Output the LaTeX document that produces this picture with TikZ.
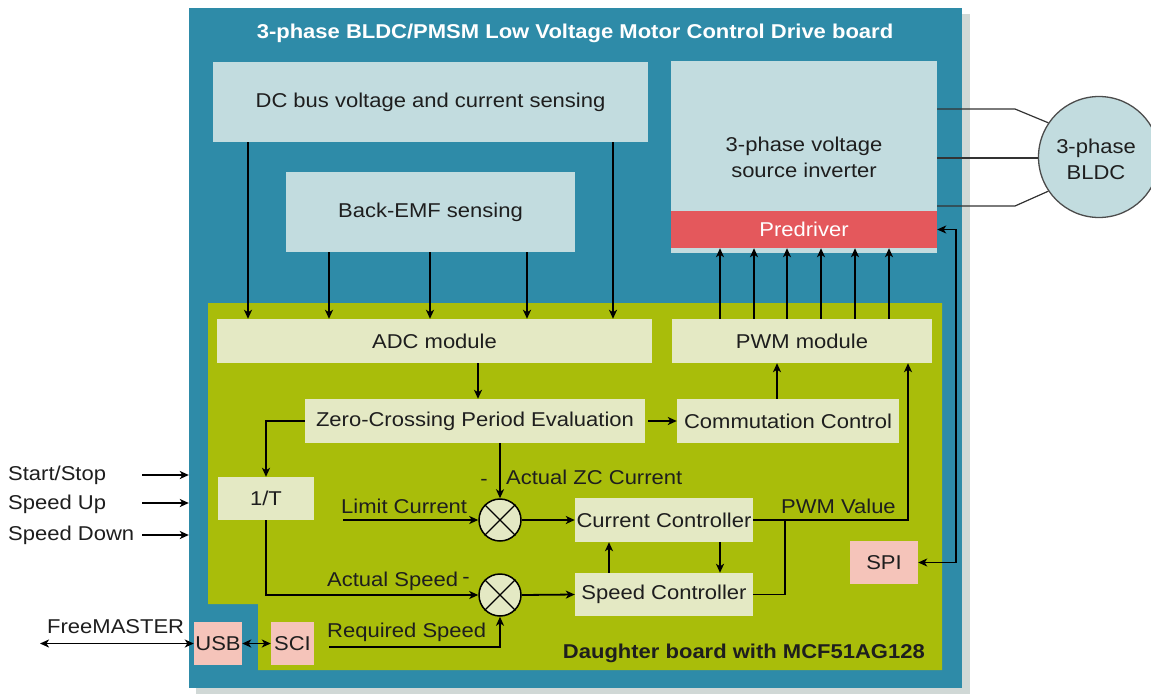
\documentclass[tikz,border=0pt]{standalone}
\usepackage{fontspec}
\setmainfont{Liberation Sans}[FakeStretch=1.1]
\usetikzlibrary{arrows.meta}
\definecolor{boardblue}{RGB}{46,139,168}
\definecolor{shadowgrey}{RGB}{208,216,214}
\definecolor{dgreen}{RGB}{169,189,10}
\definecolor{pale}{RGB}{228,233,196}
\definecolor{lblue}{RGB}{194,220,223}
\definecolor{predred}{RGB}{228,88,92}
\definecolor{pinkbox}{RGB}{245,196,186}
\definecolor{txt}{RGB}{30,30,30}
\begin{document}
\begin{tikzpicture}[x=1pt,y=-1pt,
 every node/.style={font=\fontsize{20}{26}\selectfont, text=txt, inner sep=0pt},
 blk/.style={rectangle, align=center},
 lbbox/.style={blk, fill=lblue},
 pbox/.style={blk, fill=pale},
 kbox/.style={blk, fill=pinkbox},
 tip/.tip={Stealth[length=9pt,width=8pt,inset=2.5pt]},
 arr/.style={-tip, line width=1.8pt},
 arrtwo/.style={tip-tip, line width=1.8pt},
 ln/.style={line width=1.8pt},
 mult/.style={circle, fill=pale, draw=black, line width=1.5pt, minimum size=42pt},
 lbl/.style={anchor=west},
 boldlbl/.style={font=\fontsize{20}{26}\selectfont\bfseries}
]
\useasboundingbox (0,0) rectangle (1151,694);
\fill[white] (0,0) rectangle (1151,694);
% shadow and board
\fill[shadowgrey] (196,14) rectangle (970,694);
\node[rectangle, fill=boardblue, minimum width=773pt, minimum height=680pt] (board) at (575.5,348) {};
\fill[dgreen] (208,303) -- (942,303) -- (942,670) -- (258,670) -- (258,604) -- (208,604) -- cycle;

\node[boldlbl, text=white] (title) at (575,33) {3-phase BLDC/PMSM Low Voltage Motor Control Drive board};

% drive-board blocks
\node[lbbox, minimum width=435pt, minimum height=80pt] (dcbus) at (430.5,102) {DC bus voltage and current sensing};
\node[lbbox, minimum width=289pt, minimum height=80pt] (bemf) at (430.5,212) {Back-EMF sensing};
\node[lbbox, minimum width=266pt, minimum height=192pt] (inv) at (804,157) {};
\node (invtxt) at (804,157.5) [align=center] {3-phase voltage\\source inverter};
\node[blk, fill=predred, minimum width=266pt, minimum height=37pt, text=white] (pred) at (804,229.5) {Predriver};

% daughter board blocks
\node[pbox, minimum width=435pt, minimum height=44pt] (adc) at (434.5,341) {ADC module};
\node[pbox, minimum width=260pt, minimum height=44pt] (pwm) at (802,341) {PWM module};
\node[pbox, minimum width=340pt, minimum height=44pt] (zc) at (475,421) {Zero-Crossing Period Evaluation};
\node[pbox, minimum width=222pt, minimum height=44pt] (comm) at (788,421) {Commutation Control};
\node[pbox, minimum width=96pt, minimum height=43pt] (invT) at (266,498.5) {1/T};
\node[pbox, minimum width=178pt, minimum height=44pt] (curr) at (664,520) {Current Controller};
\node[pbox, minimum width=178pt, minimum height=43pt] (speed) at (664,594.5) {Speed Controller};
\node[kbox, minimum width=68pt, minimum height=43pt] (spi) at (884,562.5) {SPI};
\node[kbox, minimum width=43pt, minimum height=43pt] (sci) at (292.5,643.5) {SCI};
\node[kbox, minimum width=48pt, minimum height=43pt] (usb) at (218,643.5) {USB};

\node[mult] (m1) at (500,520) {};
\node[mult] (m2) at (500,595) {};
\foreach \m in {m1,m2} {
  \draw[line width=1.2pt] (\m.north east) -- (\m.south west);
  \draw[line width=1.2pt] (\m.north west) -- (\m.south east);
}

% motor
\node[circle, fill=lblue, draw=black!70, line width=1.3pt, minimum size=121pt] (motor) at (1099,157) {};
\node (motortxt) at (1096,159.5) [align=center] {3-phase\\BLDC};

% sensing arrows to ADC
\foreach \x in {248,613} {
  \coordinate (c) at (\x,0);
  \draw[arr] (c |- dcbus.south) -- (c |- adc.north);
}
\foreach \x in {329,430,527} {
  \coordinate (c) at (\x,0);
  \draw[arr] (c |- bemf.south) -- (c |- adc.north);
}
% PWM to predriver
\foreach \x in {720,754,787,821,855,889} {
  \coordinate (c) at (\x,0);
  \draw[arr] (c |- pwm.north) -- (c |- pred.south);
}
% ADC -> ZC
\coordinate (a1) at (478,0);
\draw[arr] (a1 |- adc.south) -- (a1 |- zc.north);
% ZC -> Comm
\draw[arr] ([xshift=3pt]zc.east) -- (comm.west);
% Comm -> PWM
\coordinate (a2) at (777,0);
\draw[arr] (a2 |- comm.north) -- (a2 |- pwm.south);
% ZC -> 1/T
\draw[arr] (zc.west) -| (invT.north);
% 1/T -> m2
\draw[arr] (invT.south) |- (m2.west);
% ZC -> m1
\draw[arr] (m1.north |- zc.south) -- (m1.north);
% limit current
\coordinate (lc) at (343,520);
\draw[arr] (lc) -- (m1.west);
% multipliers -> controllers
\draw[arr] (m1.east) -- (curr.west);
\draw[arr] (m2.east) -- (speed.west);
% between controllers
\coordinate (a3) at (609,0);
\draw[arr] (a3 |- speed.north) -- (a3 |- curr.south);
\coordinate (a4) at (720,0);
\draw[arr] (a4 |- curr.south) -- (a4 |- speed.north);
% PWM value
\coordinate (pv) at (908,0);
\draw[arr] (curr.east) -| (pv |- pwm.south);
\coordinate (jn) at (785,520);
\draw[ln] (speed.east) -| (jn);
% required speed
\coordinate (rs) at (329,647);
\draw[arr] (rs) -| (m2.south);
% SPI <-> predriver
\coordinate (sp) at (956,562.5);
\draw[arrtwo] (spi.east) -- (sp) |- (pred.east);
% USB <-> SCI
\draw[arrtwo] (usb.east) -- (sci.west);
% FreeMASTER
\coordinate (fm) at (40,0);
\draw[arrtwo] (fm |- usb.west) -- (usb.west);
% inputs
\coordinate (i1) at (142,475);
\coordinate (i2) at (142,503);
\coordinate (i3) at (142,535);
\draw[arr] (i1) -- (i1 -| board.west);
\draw[arr] (i2) -- (i2 -| board.west);
\draw[arr] (i3) -- (i3 -| board.west);
% motor wires
\coordinate (w1) at (1015,109);
\coordinate (w3) at (1015,206);
\coordinate (w2) at (1000,158);
\draw[line width=1.2pt, black!80] (w1 -| inv.east) -- (w1) -- (motor.146);
\draw[line width=1.2pt, black!80] (w2 -| inv.east) -- (w2 -| motor.west);
\draw[line width=1.2pt, black!80] (w3 -| inv.east) -- (w3) -- (motor.214);

% labels
\node[lbl] (lss) at (8,475) {Start/Stop};
\node[lbl] (lsu) at (8,504) {Speed Up};
\node[lbl] (lsd) at (8,535) {Speed Down};
\node[lbl] (lfm) at (47,627) {FreeMASTER};
\node[lbl] (lzc) at (506,477) {Actual ZC Current};
\node (mzc) at (484,482) {-};
\node[lbl] (llc) at (341,506) {Limit Current};
\node[lbl] (las) at (327,581) {Actual Speed};
\node (mas) at (466,580) {-};
\node[lbl] (lrs) at (327,632) {Required Speed};
\node[lbl] (lpv) at (781,506) {PWM Value};
\node[boldlbl, anchor=east] (ldb) at (925,653) {Daughter board with MCF51AG128};
\end{tikzpicture}
\end{document}
